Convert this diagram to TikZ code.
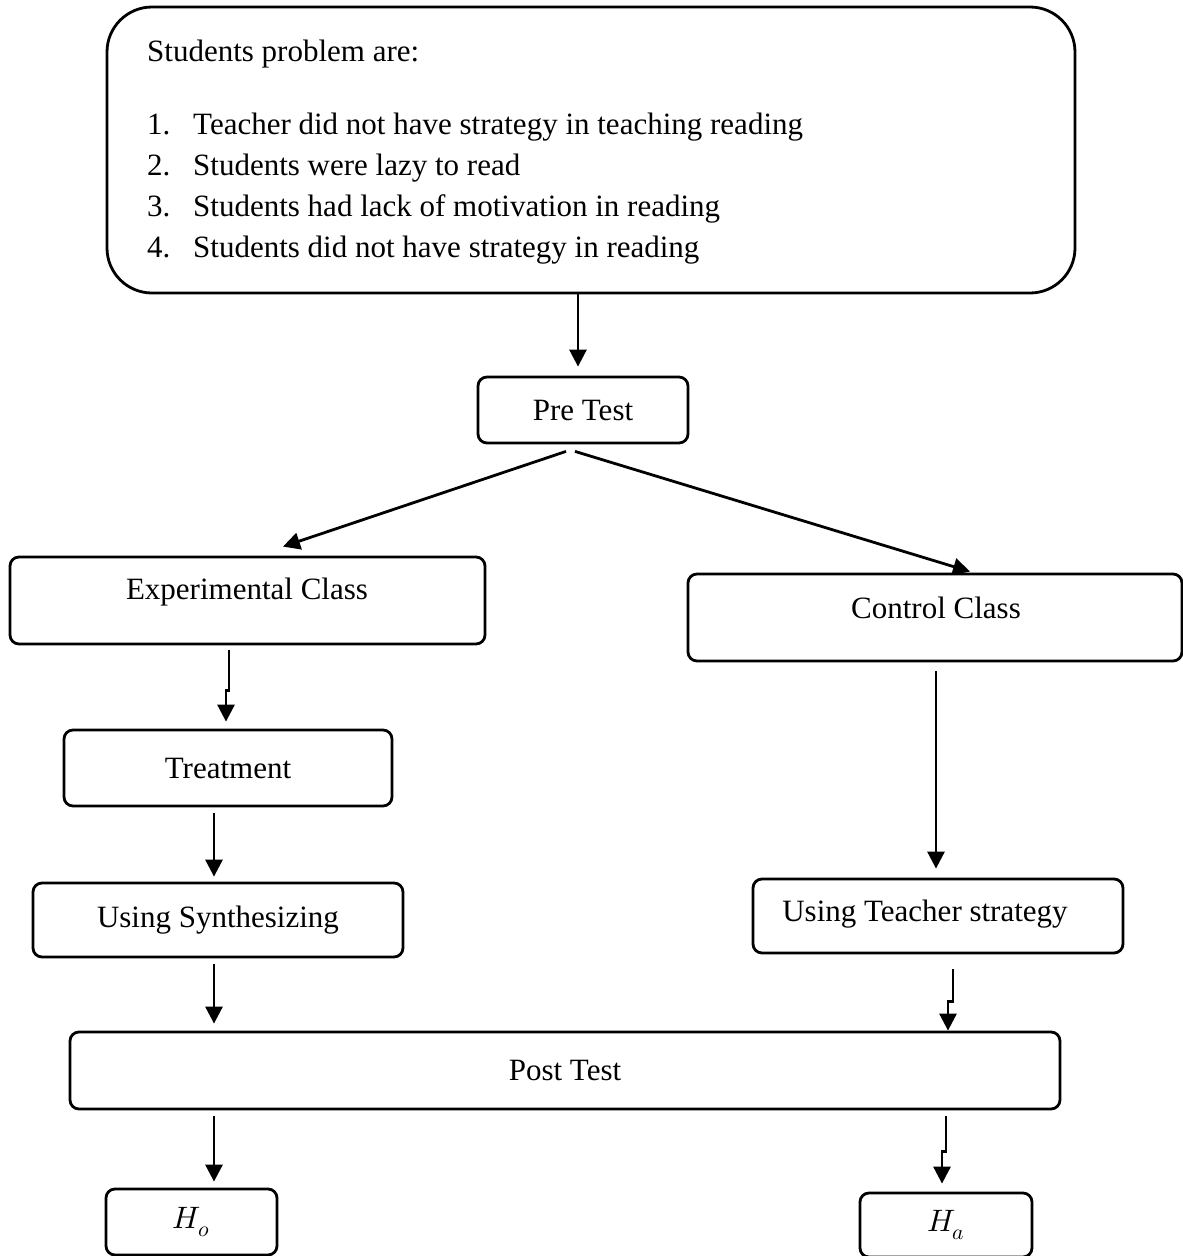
\documentclass[tikz,border=0pt]{standalone}
\usepackage{fontspec}
\usepackage{unicode-math}
\setmainfont{Liberation Serif}
\usetikzlibrary{arrows.meta}

\tikzset{
  box/.style={draw, line width=2.8pt, rounded corners=9pt, inner sep=0pt},
  link/.style={line width=2.8pt, -{Triangle[length=17pt,width=17pt]}},
}

\begin{document}
\begin{tikzpicture}[x=1pt, y=-1pt, font=\fontsize{31}{41}\selectfont]
    \useasboundingbox (0,0) rectangle (1183,1256);

    % Problems
    \node[box, rounded corners=45pt, minimum width=968pt, minimum height=286pt] (problems) at (591,150) {};
    \node[anchor=base west, inner sep=0pt] (head) at (147,61) {Students problem are:};
    \node[anchor=base west, inner sep=0pt] (n1) at (147,134) {1.};
    \node[anchor=base west, inner sep=0pt] (p1) at (193,134) {Teacher did not have strategy in teaching reading};
    \node[anchor=base west, inner sep=0pt] (n2) at (147,175) {2.};
    \node[anchor=base west, inner sep=0pt] (p2) at (193,175) {Students were lazy to read};
    \node[anchor=base west, inner sep=0pt] (n3) at (147,216) {3.};
    \node[anchor=base west, inner sep=0pt] (p3) at (193,216) {Students had lack of motivation in reading};
    \node[anchor=base west, inner sep=0pt] (n4) at (147,257) {4.};
    \node[anchor=base west, inner sep=0pt] (p4) at (193,257) {Students did not have strategy in reading};

    % Tests and classes
    \node[box, minimum width=210pt, minimum height=66pt] (pre) at (583,410) {Pre Test};

    \node[box, minimum width=475pt, minimum height=87pt] (exp) at (247.5,600.5) {};
    \node (expl) at (247,592) {Experimental Class};
    \node[box, minimum width=494pt, minimum height=87pt] (control) at (935,617.5) {};
    \node (controll) at (936,608) {Control Class};

    \node[box, minimum width=328pt, minimum height=76pt] (treat) at (228,768) {Treatment};
    \node[box, minimum width=370pt, minimum height=74pt] (synth) at (218,920) {Using Synthesizing};
    \node[box, minimum width=370pt, minimum height=74pt] (teacher) at (938,916) {};
    \node (teacherl) at (925,914) {Using Teacher strategy};

    \node[box, minimum width=990pt, minimum height=77pt] (post) at (565,1070.5) {Post Test};

    \node[box, minimum width=171pt, minimum height=66pt] (ho) at (191.5,1222) {$H_o$};
    \node[box, minimum width=172pt, minimum height=64pt] (ha) at (946,1225) {$H_a$};

    % Arrows
    \draw[link] ([xshift=-13pt]problems.south) -- ([xshift=-5pt,yshift=9pt]pre.north);
    \draw[link] ([xshift=-17pt,yshift=-7pt]pre.south) -- ([xshift=35.5pt,yshift=9pt]exp.north);
    \draw[link] ([xshift=-8pt,yshift=-7pt]pre.south) -- ([xshift=35pt,yshift=1pt]control.north);
    \draw[link] ([xshift=-18.5pt,yshift=-5pt]exp.south) -- ++(0,40) -- ++(-3,0) -- ([xshift=-2pt,yshift=7pt]treat.north);
    \draw[link] ([xshift=-14pt,yshift=-6pt]treat.south) -- ([xshift=-4pt,yshift=5pt]synth.north);
    \draw[link] ([xshift=1pt,yshift=-9pt]control.south) -- ([xshift=-2pt,yshift=9pt]teacher.north);
    \draw[link] ([xshift=-4pt,yshift=-6pt]synth.south) -- ([xshift=-351pt,yshift=7pt]post.north);
    \draw[link] ([xshift=15pt,yshift=-15pt]teacher.south) -- ++(0,32) -- ++(-5,0) -- ([xshift=383pt]post.north);
    \draw[link] ([xshift=-351pt,yshift=-6pt]post.south) -- ([xshift=22.5pt,yshift=6pt]ho.north);
    \draw[link] ([xshift=381pt,yshift=-6pt]post.south) -- ++(0,35) -- ++(-4,0) -- ([xshift=-4pt,yshift=8pt]ha.north);

\end{tikzpicture}
\end{document}
